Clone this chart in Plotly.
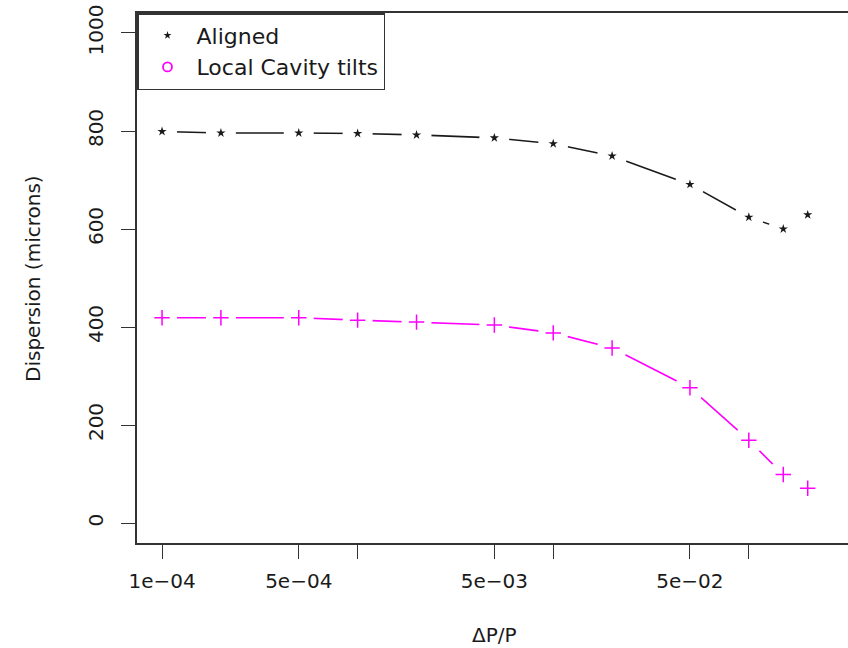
import plotly.graph_objects as go

# Data
dp_over_p = [1e-4, 2e-4, 5e-4, 1e-3, 2e-3, 5e-3, 1e-2, 2e-2, 5e-2, 1e-1, 0.15, 0.2]
aligned = [799, 796, 796, 795, 792, 786, 774, 749, 691, 624, 600, 629]
local_tilts = [419, 419, 419, 414, 410, 404, 388, 357, 276, 169, 99, 71]

x_tickvals = [1e-4, 5e-4, 1e-3, 5e-3, 1e-2, 5e-2, 1e-1]
x_ticktext = ["1e\u221204", "5e\u221204", "", "5e\u221203", "", "5e\u221202", ""]
y_tickvals = [0, 200, 400, 600, 800, 1000]

FONT = "DejaVu Sans"
BLACK = "#1a1a1a"
MAGENTA = "#FF00FF"

fig = go.Figure()

# connecting lines with white discs on top (type="b" look: gaps around points)
for ys, col in ((aligned, BLACK), (local_tilts, MAGENTA)):
    fig.add_trace(go.Scatter(x=dp_over_p, y=ys, mode="lines+markers",
                             line=dict(color=col, width=1.6),
                             marker=dict(symbol="circle", size=30, color="white", line=dict(width=0)),
                             showlegend=False, hoverinfo="skip"))
# point markers
fig.add_trace(go.Scatter(x=dp_over_p, y=aligned, mode="markers", name="Aligned",
                         marker=dict(symbol="star", size=7, color=BLACK, line=dict(width=0)),
                         showlegend=False))
fig.add_trace(go.Scatter(x=dp_over_p, y=local_tilts, mode="markers", name="Local Cavity tilts",
                         marker=dict(symbol="cross-thin-open", size=11, color=MAGENTA,
                                     line=dict(color=MAGENTA, width=1.5)),
                         showlegend=False))
# legend entries
fig.add_trace(go.Scatter(x=[None], y=[None], mode="markers", name="Aligned",
                         marker=dict(symbol="star", size=6, color=BLACK, line=dict(width=0))))
fig.add_trace(go.Scatter(x=[None], y=[None], mode="markers", name="Local Cavity tilts",
                         marker=dict(symbol="circle-open", size=9, color=MAGENTA,
                                     line=dict(color=MAGENTA, width=1.8))))

axis_line = dict(showline=True, linecolor="#333333", linewidth=1.5, ticks="outside",
                 ticklen=14, tickwidth=1.3, tickcolor="#333333", showgrid=False, zeroline=False,
                 tickfont=dict(family=FONT, size=20, color=BLACK))

fig.update_layout(
    width=848, height=648,
    margin=dict(l=137, r=0, t=13, b=105),
    paper_bgcolor="white", plot_bgcolor="white",
    font=dict(family=FONT, size=19, color=BLACK),
    xaxis=dict(type="log", range=[-4.128, -0.493], tickvals=x_tickvals, ticktext=x_ticktext,
               mirror=True, ticklabelstandoff=5, **axis_line),
    yaxis=dict(range=[-40.8, 1040.8], tickvals=y_tickvals, tickangle=-90,
               mirror=False, ticklabelstandoff=10, **axis_line),
    legend=dict(x=0, y=1, xanchor="left", yanchor="top", bgcolor="white",
                bordercolor="#333333", borderwidth=1.5,
                font=dict(family=FONT, size=22, color=BLACK),
                itemwidth=48, tracegroupgap=0),
    annotations=[
        dict(text="\u0394P/P", xref="paper", yref="paper", x=0.5035, y=-0.1736,
             xanchor="center", yanchor="middle", showarrow=False,
             font=dict(family=FONT, size=20, color=BLACK)),
        dict(text="Dispersion (microns)", xref="paper", yref="paper", x=-0.1463, y=0.5,
             xanchor="center", yanchor="middle", textangle=-90, showarrow=False,
             font=dict(family=FONT, size=20, color=BLACK)),
    ],
)

fig.write_html("out.html")
